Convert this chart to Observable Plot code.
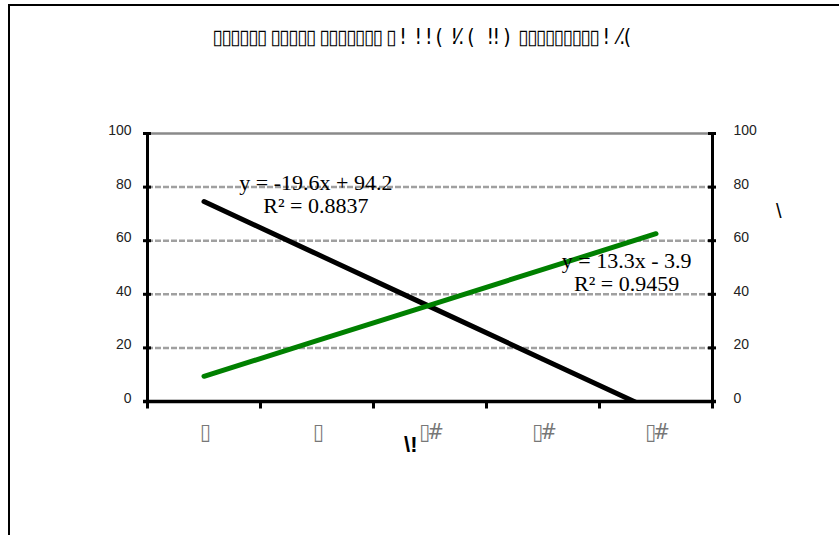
<!DOCTYPE html>
<html>
<head>
<meta charset="utf-8">
<script src="https://cdn.jsdelivr.net/npm/d3@7"></script>
<script src="https://cdn.jsdelivr.net/npm/@observablehq/plot@0.6"></script>
<style>
  html, body { margin: 0; padding: 0; background: #fff; overflow: hidden; }
  #wrap { position: relative; width: 839px; height: 535px; overflow: hidden; }
  #border { position: absolute; left: 8px; top: 4px; width: 900px; height: 600px; border: 2px solid #000; box-sizing: border-box; pointer-events: none; }
  #chart { position: absolute; left: 0; top: 0; }
  .title-text text { letter-spacing: -1.5px; }
  .cat-text text { letter-spacing: -3px; }
</style>
</head>
<body>
<div id="wrap"><div id="chart"></div><div id="border"></div></div>
<script>
// ---- data ----
const titleText = "▯▯▯▯▯▯ ▯▯▯▯▯ ▯▯▯▯▯▯▯ ▯ !  ! ! (  !⁄. (   !! )  ▯▯▯▯▯▯▯▯▯ !  ⁄.(";
const categories = ["▯", "▯", "▯#", "▯#", "▯#"];
const categoryIndex = [1, 2, 3, 4, 5];
const blackSeries = [74.6, 55.0, 35.4, 15.8, -3.8];
const greenSeries = [9.4, 22.7, 36.0, 49.3, 62.6];
const yTicks = [0, 20, 40, 60, 80, 100];
const gridDashed = [20, 40, 60, 80];
const gridSolid = [100];
const xBoundaries = [0.5, 1.5, 2.5, 3.5, 4.5, 5.5];
const blackEq = ["y = -19.6x + 94.2", "R² = 0.8837"];
const greenEq = ["y = 13.3x - 3.9", "R² = 0.9459"];
const xTitle = "\\!";
const yRightTitle = "\\";

const blackData = categoryIndex.map((x, i) => ({x, y: blackSeries[i]}));
const greenData = categoryIndex.map((x, i) => ({x, y: greenSeries[i]}));
const catData = categoryIndex.map((x, i) => ({x, label: categories[i]}));

const sans = "'Liberation Sans Narrow', 'Liberation Sans', Arial, sans-serif";
const serif = "'Liberation Serif', 'Times New Roman', serif";
const boxFont = "'DejaVu Sans Condensed', 'DejaVu Sans', sans-serif";
const tickHalf = 4 / 113; // small inner/outer tick length in x units

const chart = Plot.plot({
  width: 839,
  height: 535,
  marginLeft: 147,
  marginRight: 127,
  marginTop: 133,
  marginBottom: 134,
  style: {fontFamily: sans, background: "#fff"},
  x: {type: "linear", domain: [0.5, 5.5], axis: null},
  y: {domain: [0, 100], axis: null},
  marks: [
    Plot.ruleY(gridDashed, {stroke: "#a0a0a0", strokeWidth: 2.5, strokeDasharray: "6,2"}),
    Plot.ruleY(gridSolid, {stroke: "#8a8a8a", strokeWidth: 2.5}),
    Plot.line(blackData, {x: "x", y: "y", stroke: "#000", strokeWidth: 5, clip: true}),
    Plot.line(greenData, {x: "x", y: "y", stroke: "#008000", strokeWidth: 5, clip: true}),
    // axis lines
    Plot.ruleX([0.5, 5.5], {y1: 0, y2: 100, stroke: "#000", strokeWidth: 3}),
    Plot.ruleY([0], {x1: 0.5 - tickHalf, x2: 5.5 + tickHalf, stroke: "#000", strokeWidth: 3.5}),
    // y ticks (both sides)
    Plot.ruleY(yTicks, {x1: 0.5 - tickHalf, x2: 0.5 + tickHalf, stroke: "#000", strokeWidth: 3}),
    Plot.ruleY(yTicks, {x1: 5.5 - tickHalf, x2: 5.5 + tickHalf, stroke: "#000", strokeWidth: 3}),
    // x ticks
    Plot.ruleX(xBoundaries, {y1: 0, y2: -2.8, stroke: "#000", strokeWidth: 3}),
    // y tick labels
    Plot.text(yTicks, {x: 0.5, y: d => d, text: d => String(d), dx: -16, dy: -3, textAnchor: "end", fontSize: 14, fill: "#222"}),
    Plot.text(yTicks, {x: 5.5, y: d => d, text: d => String(d), dx: 21, dy: -3, textAnchor: "start", fontSize: 14, fill: "#222"}),
    // category labels
    Plot.text(catData, {x: "x", text: "label", frameAnchor: "bottom", dy: 37, fontSize: 22, fontFamily: boxFont, fill: "#777", className: "cat-text"}),
    // axis titles
    Plot.text([xTitle], {x: 2.83, frameAnchor: "bottom", dy: 50, fontSize: 22, fontWeight: "bold", fill: "#000"}),
    Plot.text([yRightTitle], {frameAnchor: "top-right", dx: 69, dy: 70, fontSize: 20, fill: "#000"}),
    // trendline equations
    Plot.text([blackEq[0]], {x: 1.99, y: 81.7, text: d => d, fontFamily: serif, fontSize: 22, fill: "#000"}),
    Plot.text([blackEq[1]], {x: 1.99, y: 72.8, text: d => d, fontFamily: serif, fontSize: 22, fill: "#000"}),
    Plot.text([greenEq[0]], {x: 4.74, y: 52.6, text: d => d, fontFamily: serif, fontSize: 22, fill: "#000"}),
    Plot.text([greenEq[1]], {x: 4.74, y: 43.7, text: d => d, fontFamily: serif, fontSize: 22, fill: "#000"}),
    // title
    Plot.text([titleText], {frameAnchor: "top", dx: -9, dy: -104, fontSize: 21, fontFamily: boxFont, fill: "#000", className: "title-text"})
  ]
});
document.getElementById("chart").appendChild(chart);
</script>
</body>
</html>
